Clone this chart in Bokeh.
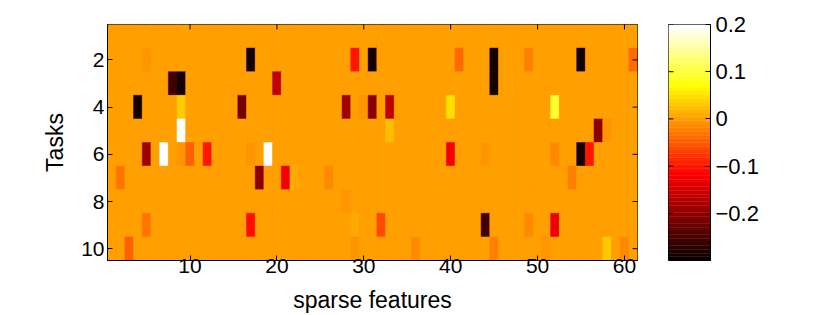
import numpy as np
from bokeh.plotting import figure
from bokeh.models import (Range1d, FixedTicker, LinearColorMapper,
                          ColumnDataSource, CustomJSTickFormatter)
from bokeh.transform import transform
from bokeh.layouts import row
from bokeh.embed import file_html
from bokeh.resources import INLINE

n_tasks = 10
n_features = 61

# non-zero entries of the sparse weight matrix (task, feature, weight)
task = [2, 2, 2, 2, 2, 2, 2, 2, 2,
        3, 3, 3, 3,
        4, 4, 4, 4, 4, 4, 4, 4, 4,
        5, 5, 5, 5,
        6, 6, 6, 6, 6, 6, 6, 6, 6, 6, 6, 6,
        7, 7, 7, 7, 7, 7,
        8,
        9, 9, 9, 9, 9, 9, 9,
        10, 10, 10, 10, 10, 10, 10]
feature = [5, 17, 29, 31, 41, 45, 49, 55, 61,
           8, 9, 20, 45,
           4, 9, 16, 28, 30, 31, 33, 40, 52,
           9, 33, 57, 58,
           5, 7, 9, 10, 12, 17, 19, 40, 44, 52, 55, 56,
           2, 18, 21, 22, 26, 54,
           28,
           5, 17, 29, 32, 44, 49, 52,
           3, 29, 36, 45, 51, 58, 60]
weight = [-0.01, -0.29, -0.10, -0.29, -0.04, -0.29, -0.025, -0.29, -0.04,
          -0.255, -0.29, -0.163, -0.29,
          -0.29, 0.03, -0.22, -0.185, -0.007, -0.20, -0.16, 0.05, 0.095,
          0.198, 0.025, -0.20, -0.007,
          -0.185, 0.198, -0.007, -0.045, -0.10, -0.007, 0.198, -0.125, -0.007, -0.012, -0.29, -0.10,
          -0.03, -0.205, -0.125, 0.006, -0.015, -0.022,
          -0.007,
          -0.03, -0.105, 0.006, -0.065, -0.255, -0.012, -0.13,
          -0.045, -0.007, -0.015, -0.022, -0.007, 0.03, -0.018]

x_ticks = [10, 20, 30, 40, 50, 60]
y_ticks = [2, 4, 6, 8, 10]
cbar_ticks = [-0.2, -0.1, 0, 0.1, 0.2]
c_low, c_high = -0.3, 0.2


def hot(m=64):
    n = int(3 * m / 8)
    cols = []
    for i in range(1, m + 1):
        r = min(1.0, i / n)
        g = min(1.0, max(0.0, (i - n) / n))
        b = min(1.0, max(0.0, (i - 2 * n) / (m - 2 * n)))
        cols.append("#%02x%02x%02x" % (round(r * 255), round(g * 255), round(b * 255)))
    return cols


palette = hot(64)
mapper = LinearColorMapper(palette=palette, low=c_low, high=c_high)

W = np.zeros((n_tasks, n_features))
for t, f, w in zip(task, feature, weight):
    W[t - 1, f - 1] = w
T, F = np.meshgrid(np.arange(1, n_tasks + 1), np.arange(1, n_features + 1), indexing="ij")
src = ColumnDataSource(dict(task=T.ravel(), feature=F.ravel(), weight=W.ravel()))

FONT = "Liberation Sans"
TICK_LEN = 10  # dash marker; half of it is clipped by the frame -> 5px inward tick


def style_axis(ax, size="21px"):
    ax.major_tick_in = 5
    ax.major_tick_out = 0
    ax.minor_tick_in = 0
    ax.minor_tick_out = 0
    ax.axis_line_color = "black"
    ax.major_tick_line_color = "black"
    ax.major_label_text_font = FONT
    ax.major_label_text_color = "black"
    ax.major_label_text_font_size = size
    ax.axis_label_text_font = FONT
    ax.axis_label_text_font_style = "normal"
    ax.axis_label_text_color = "black"
    ax.axis_label_text_font_size = "23px"


x_lo, x_hi = 0.5, n_features + 0.5
y_top, y_bot = 0.5, n_tasks + 0.5

p = figure(width=648, height=315,
           x_range=Range1d(x_lo, x_hi), y_range=Range1d(y_bot, y_top),
           output_backend="svg", toolbar_location=None,
           min_border_left=107, min_border_right=11, min_border_top=24, min_border_bottom=55)
p.grid.visible = False
p.outline_line_color = "black"
p.background_fill_color = palette[38]
p.rect(x="feature", y="task", width=1, height=1, source=src,
       fill_color=transform("weight", mapper), line_color=transform("weight", mapper),
       line_width=0.5)

p.xaxis.ticker = FixedTicker(ticks=x_ticks)
p.yaxis.ticker = FixedTicker(ticks=y_ticks)
p.xaxis.axis_label = "sparse features"
p.yaxis.axis_label = "Tasks"
for ax in p.xaxis + p.yaxis:
    style_axis(ax)
p.xaxis.major_label_standoff = -2
p.xaxis.axis_label_standoff = 11
p.yaxis.major_label_standoff = 3
p.yaxis.axis_label_standoff = 10

# inward ticks on the top and right edges of the box
p.scatter(x=x_ticks, y=[y_top] * len(x_ticks), marker="dash", size=TICK_LEN,
          angle=np.pi / 2, line_color="black", line_width=1)
p.scatter(x=[x_hi] * len(y_ticks), y=y_ticks, marker="dash", size=TICK_LEN,
          line_color="black", line_width=1)

# colour bar
p2 = figure(width=162, height=315, x_range=Range1d(0, 1), y_range=Range1d(c_low, c_high),
            output_backend="svg", toolbar_location=None,
            x_axis_location=None, y_axis_location="right",
            min_border_left=20, min_border_right=100, min_border_top=23, min_border_bottom=54)
p2.grid.visible = False
p2.outline_line_color = "black"
edges = np.linspace(c_low, c_high, len(palette) + 1)
p2.quad(left=0, right=1, bottom=edges[:-1], top=edges[1:],
        fill_color=palette, line_color=palette, line_width=0.4)
p2.yaxis.ticker = FixedTicker(ticks=cbar_ticks)
p2.yaxis.formatter = CustomJSTickFormatter(code="""
    if (Math.abs(tick) < 1e-9) { return "0"; }
    return (tick < 0 ? "\\u2212" : "") + Math.abs(tick).toFixed(1);
""")
for ax in p2.yaxis:
    style_axis(ax, size="22px")
p2.yaxis.major_label_standoff = 5
p2.scatter(x=[0] * len(cbar_ticks), y=cbar_ticks, marker="dash", size=TICK_LEN,
           line_color="black", line_width=1)

layout = row(p, p2)
open("out.html", "w", encoding="utf-8").write(file_html(layout, INLINE))
